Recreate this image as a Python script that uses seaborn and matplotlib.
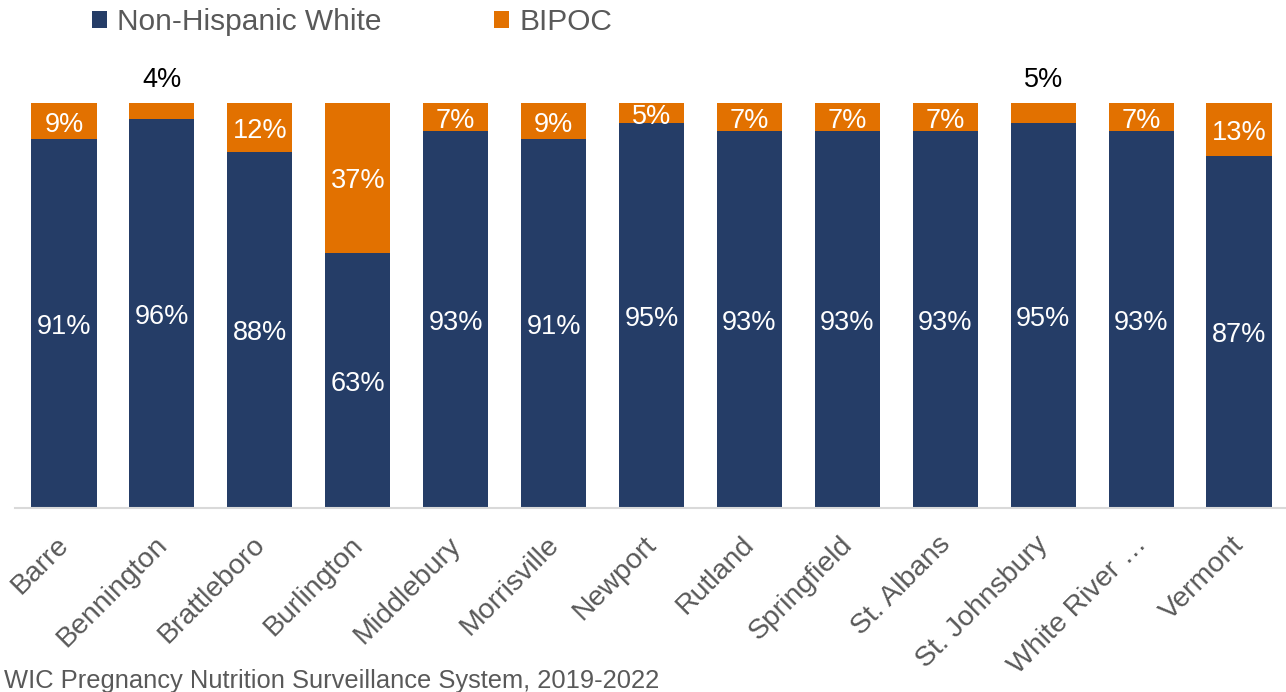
import matplotlib
matplotlib.use("Agg")
import matplotlib.pyplot as plt
import matplotlib.transforms as mtransforms
import seaborn as sns
import pandas as pd

# Share of WIC pregnancy participants by race/ethnicity, per district office
districts = ["Barre", "Bennington", "Brattleboro", "Burlington", "Middlebury",
             "Morrisville", "Newport", "Rutland", "Springfield", "St. Albans",
             "St. Johnsbury", "White River \u2026", "Vermont"]
non_hispanic_white = [91, 96, 88, 63, 93, 91, 95, 93, 93, 93, 95, 93, 87]
bipoc = [9, 4, 12, 37, 7, 9, 5, 7, 7, 7, 5, 7, 13]
# BIPOC labels too thin to fit inside their segment
bipoc_label_above = {"Bennington", "St. Johnsbury"}

NAVY = "#253D67"
ORANGE = "#E27100"
GRAY = "#595959"

sns.set_theme(style="white")
plt.rcParams["font.family"] = ["Liberation Sans", "DejaVu Sans"]

df = pd.DataFrame({"district": districts, "nhw": non_hispanic_white, "bipoc": bipoc})
df["total"] = df["nhw"] + df["bipoc"]

fig = plt.figure(figsize=(12.86, 6.92), dpi=100)
ax = fig.add_axes([15 / 1286, 184 / 692, 1273 / 1286, 405 / 692])

sns.barplot(data=df, x="district", y="total", color=ORANGE, width=0.665,
            saturation=1, linewidth=0, ax=ax, label="BIPOC", legend=False)
sns.barplot(data=df, x="district", y="nhw", color=NAVY, width=0.665,
            saturation=1, linewidth=0, ax=ax, label="Non-Hispanic White",
            legend=False)

ax.set_xlim(-0.5, 12.5)
ax.set_ylim(0, 100)
ax.set_xlabel("")
ax.set_ylabel("")
ax.set_yticks([])
for s in ["top", "right", "left"]:
    ax.spines[s].set_visible(False)
ax.spines["bottom"].set_color("#D9D9D9")
ax.spines["bottom"].set_linewidth(1.5)
ax.tick_params(axis="x", length=0, pad=17)
ax.set_xticks(range(len(districts)))
ax.set_xticklabels(districts, rotation=45, ha="right", rotation_mode="anchor",
                   fontsize=20.5, color=GRAY)
shift = mtransforms.ScaledTranslation(-8 / 100, 0, fig.dpi_scale_trans)
for lbl in ax.get_xticklabels():
    lbl.set_transform(lbl.get_transform() + shift)

label_kw = dict(ha="center", va="center", fontsize=19.5,
                textcoords="offset points", annotation_clip=False)
for i, row in df.iterrows():
    ax.annotate(f"{row['nhw']}%", (i, row["nhw"] / 2), xytext=(0, -2.5),
                color="white", **label_kw)
    if row["district"] in bipoc_label_above:
        ax.annotate(f"{row['bipoc']}%", (i, row["total"] + 6.2),
                    xytext=(0, -1.5), color="black", **label_kw)
    else:
        ax.annotate(f"{row['bipoc']}%", (i, row["nhw"] + row["bipoc"] / 2),
                    xytext=(0, -2.5), color="white", **label_kw)

handles, labels = ax.get_legend_handles_labels()
order = [labels.index("Non-Hispanic White"), labels.index("BIPOC")]
leg = fig.legend([handles[k] for k in order], [labels[k] for k in order],
                 loc="center left", bbox_to_anchor=(77 / 1286, 1 - 22 / 692),
                 ncol=2, frameon=False, fontsize=21.5, handlelength=0.5,
                 handleheight=0.5, handletextpad=0.35, columnspacing=3.77,
                 labelcolor=GRAY, borderpad=0)

fig.text(4 / 1286, 1 - 681 / 692, "WIC Pregnancy Nutrition Surveillance System, 2019-2022",
         ha="left", va="center", fontsize=18.4, color=GRAY)

fig.savefig("out.png", dpi=100)
